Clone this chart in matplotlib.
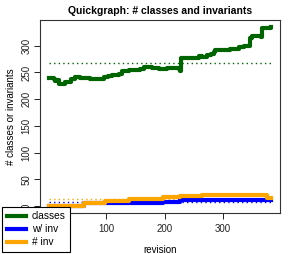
import numpy as np
import matplotlib
matplotlib.use("Agg")
import matplotlib.pyplot as plt

plt.rcParams['font.family'] = ['Liberation Sans', 'DejaVu Sans']

# classes per revision (step values)
rev_classes = [1, 9, 12, 15, 18, 29, 39, 46, 55, 72, 89, 95, 103, 109, 121, 126,
               138, 149, 158, 164, 172, 178, 190, 198, 204, 224, 227, 228, 250,
               259, 264, 273, 279, 284, 287, 307, 313, 328, 336, 345, 347, 350,
               359, 365, 368, 383]
classes = [240, 238, 234, 236, 229, 233, 238, 241, 240, 238, 237, 241, 243, 246,
           248, 252, 254, 255, 257, 260, 261, 258, 257, 256, 258, 257, 252, 277,
           278, 280, 279, 282, 285, 288, 293, 293, 294, 297, 299, 300, 314, 319,
           319, 316, 334, 335]

# classes with invariants
rev_winv = [1, 62, 98, 198, 227, 383]
winv = [0, 5, 6, 8, 10.5, 10.5]

# number of invariants
rev_inv = [1, 62, 98, 138, 198, 227, 264, 376, 383]
inv = [0, 6, 9, 12.5, 16, 19, 20, 14, 14]

# averages (dotted lines)
mean_classes = 268
mean_winv = 8
mean_inv = 12.5

green = '#006400'
blue = '#0000FF'
orange = '#FFA500'

W, H = 294, 254
fig = plt.figure(figsize=(W / 100, H / 100), dpi=100)
ax = fig.add_axes([40 / W, 1 - 213 / H, 240 / W, 193 / H])

x0, x1 = rev_classes[0], rev_classes[-1]
for m, c in [(mean_classes, green), (mean_winv, blue), (mean_inv, orange)]:
    ax.plot([x0, x1], [m, m], color=c, lw=1.0, dashes=(1, 2.3))

ax.plot(rev_classes, classes, drawstyle='steps-post', color=green, lw=3,
        label='classes')
ax.plot(rev_winv, winv, drawstyle='steps-post', color=blue, lw=3,
        label='w/ inv')
ax.plot(rev_inv, inv, drawstyle='steps-post', color=orange, lw=3,
        label='# inv')

# R-like 4% padding
span = x1 - x0
ax.set_xlim(x0 - 0.04 * span, x1 + 0.04 * span)
ymax = max(classes)
ax.set_ylim(-0.04 * ymax, ymax * 1.04)

# the tick at 0 sits under the legend in the original
ax.set_xticks([100, 200, 300])
ax.set_yticks([0, 50, 100, 150, 200, 250, 300])
ax.tick_params(axis='both', direction='out', length=4, width=0.7,
               labelsize=7, colors='#222222', pad=2)
ax.tick_params(axis='x', pad=4)
for lab in ax.get_yticklabels():
    lab.set_rotation(90)
    lab.set_va('center')
for s in ax.spines.values():
    s.set_linewidth(0.8)
    s.set_color('#333333')

ax.set_title('Quickgraph: # classes and invariants', fontsize=7.5,
             fontweight='bold', pad=4.5)
ax.set_xlabel('revision', fontsize=7, labelpad=8)
ax.set_ylabel('# classes or invariants', fontsize=7, labelpad=4)

leg = fig.legend(loc='lower left', bbox_to_anchor=(2 / W, 2 / H),
                 fontsize=7.3, frameon=True, fancybox=False, edgecolor='black',
                 handlelength=1.9, handletextpad=0.6, borderpad=0.45,
                 labelspacing=0.3, borderaxespad=0)
leg.get_frame().set_linewidth(0.8)
leg.get_frame().set_alpha(1)

fig.savefig('out.png', dpi=100)
